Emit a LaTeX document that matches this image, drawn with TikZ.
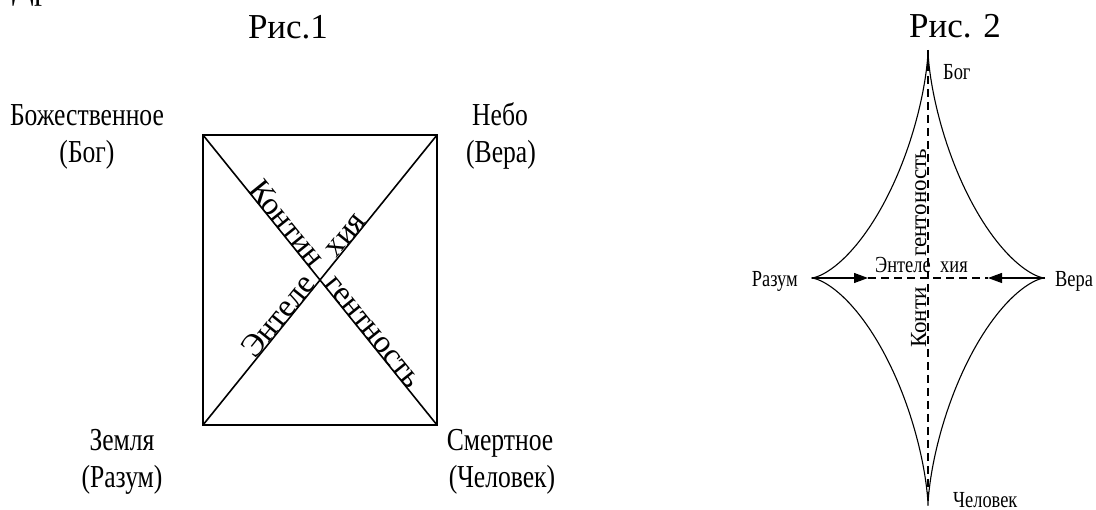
\documentclass[tikz,border=0pt]{standalone}
\usepackage{fontspec}
\setmainfont{Liberation Serif}
\newfontfamily\condf[FakeStretch=0.8]{Liberation Serif}
\usetikzlibrary{arrows.meta,calc}
\begin{document}
\begin{tikzpicture}[x=1pt,y=-1pt,
  lab/.style={font=\condf\fontsize{32}{36}\selectfont, inner sep=0pt, anchor=base},
  labs/.style={font=\condf\fontsize{23}{26}\selectfont, inner sep=0pt},
  ttl/.style={font=\fontsize{35}{40}\selectfont, inner sep=0pt, anchor=base},
  diag/.style={font=\fontsize{32}{36}\selectfont, inner sep=0pt},
  vtxt/.style={font=\fontsize{23}{26}\selectfont, inner sep=0pt, rotate=90, anchor=base west},
  heavy/.style={line width=1.6pt},
  light/.style={line width=1.1pt},
  dsh/.style={line width=1.1pt, dash pattern=on 8pt off 5pt},
  tipr/.style={-{Triangle[length=14pt,width=10pt]}}
]
\useasboundingbox (0,0) rectangle (1096,510);

% fragment at top-left
\node[ttl, anchor=base west, font=\fontsize{32}{36}\selectfont] (frag) at (12,0) {Др};

% titles
\node[ttl] (fig1) at (288,39) {Рис.1};
\node[ttl] (fig2) at (955,38) {Рис. 2};

% ---------- Fig 1 ----------
\coordinate (A) at (203,135);
\coordinate (B) at (437,135);
\coordinate (C) at (437,425);
\coordinate (D) at (203,425);
\draw[heavy] (A) rectangle (C);
\draw[heavy] (A) -- (C);
\draw[heavy] (D) -- (B);

\node[diag, rotate=-51.1, anchor=base east] (kont) at ($(A)!0.462!(C)$) {Контин};
\node[diag, rotate=-51.1, anchor=base west] (gent) at ($(A)!0.516!(C)$) {гентность};
\node[diag, rotate=51.1, anchor=base east] (ente) at ($(D)!0.484!(B)$) {Энтеле};
\node[diag, rotate=51.1, anchor=base west] (hiya) at ($(D)!0.572!(B)$) {хия};

\node[lab] (bozh) at (87,126) {Божественное};
\node[lab] (bog) at (87,163) {(Бог)};
\node[lab] (nebo) at (500,126) {Небо};
\node[lab] (vera) at (501,163) {(Вера)};
\node[lab] (zem) at (122,451) {Земля};
\node[lab] (raz) at (122,488) {(Разум)};
\node[lab] (smert) at (500,451) {Смертное};
\node[lab] (chel) at (502,488) {(Человек)};

% ---------- Fig 2 ----------
\coordinate (T) at (928,50);
\coordinate (Bt) at (928,505);
\coordinate (L) at (812,278);
\coordinate (R) at (1045,278);
\coordinate (la) at (868,278);
\coordinate (ra) at (988,278);

\draw[light] plot[domain=0:360, samples=241]
  ({928+116.5*cos(\x)*cos(\x)*cos(\x)}, {278+227.5*sin(\x)*sin(\x)*sin(\x)});
\draw[dsh] (T) -- (Bt);
\draw[dsh] (la) -- (ra);
\draw[light, tipr] (L) -- (la);
\draw[light, tipr] (R) -- (ra);

\node[labs, anchor=base west] (bog2) at (943,80) {Бог};
\node[labs, anchor=base east] (raz2) at (798,287) {Разум};
\node[labs, anchor=base west] (vera2) at (1055,287) {Вера};
\node[labs, anchor=base west] (chel2) at (953,508) {Человек};
\node[labs, anchor=base west] (ente2) at (875,273) {Энтеле};
\node[labs, anchor=base west] (hiya2) at (940,273) {хия};
\node[vtxt] (gent2) at (926,257) {гентоность};
\node[vtxt] (kont2) at (926,348) {Конти};
\end{tikzpicture}
\end{document}
